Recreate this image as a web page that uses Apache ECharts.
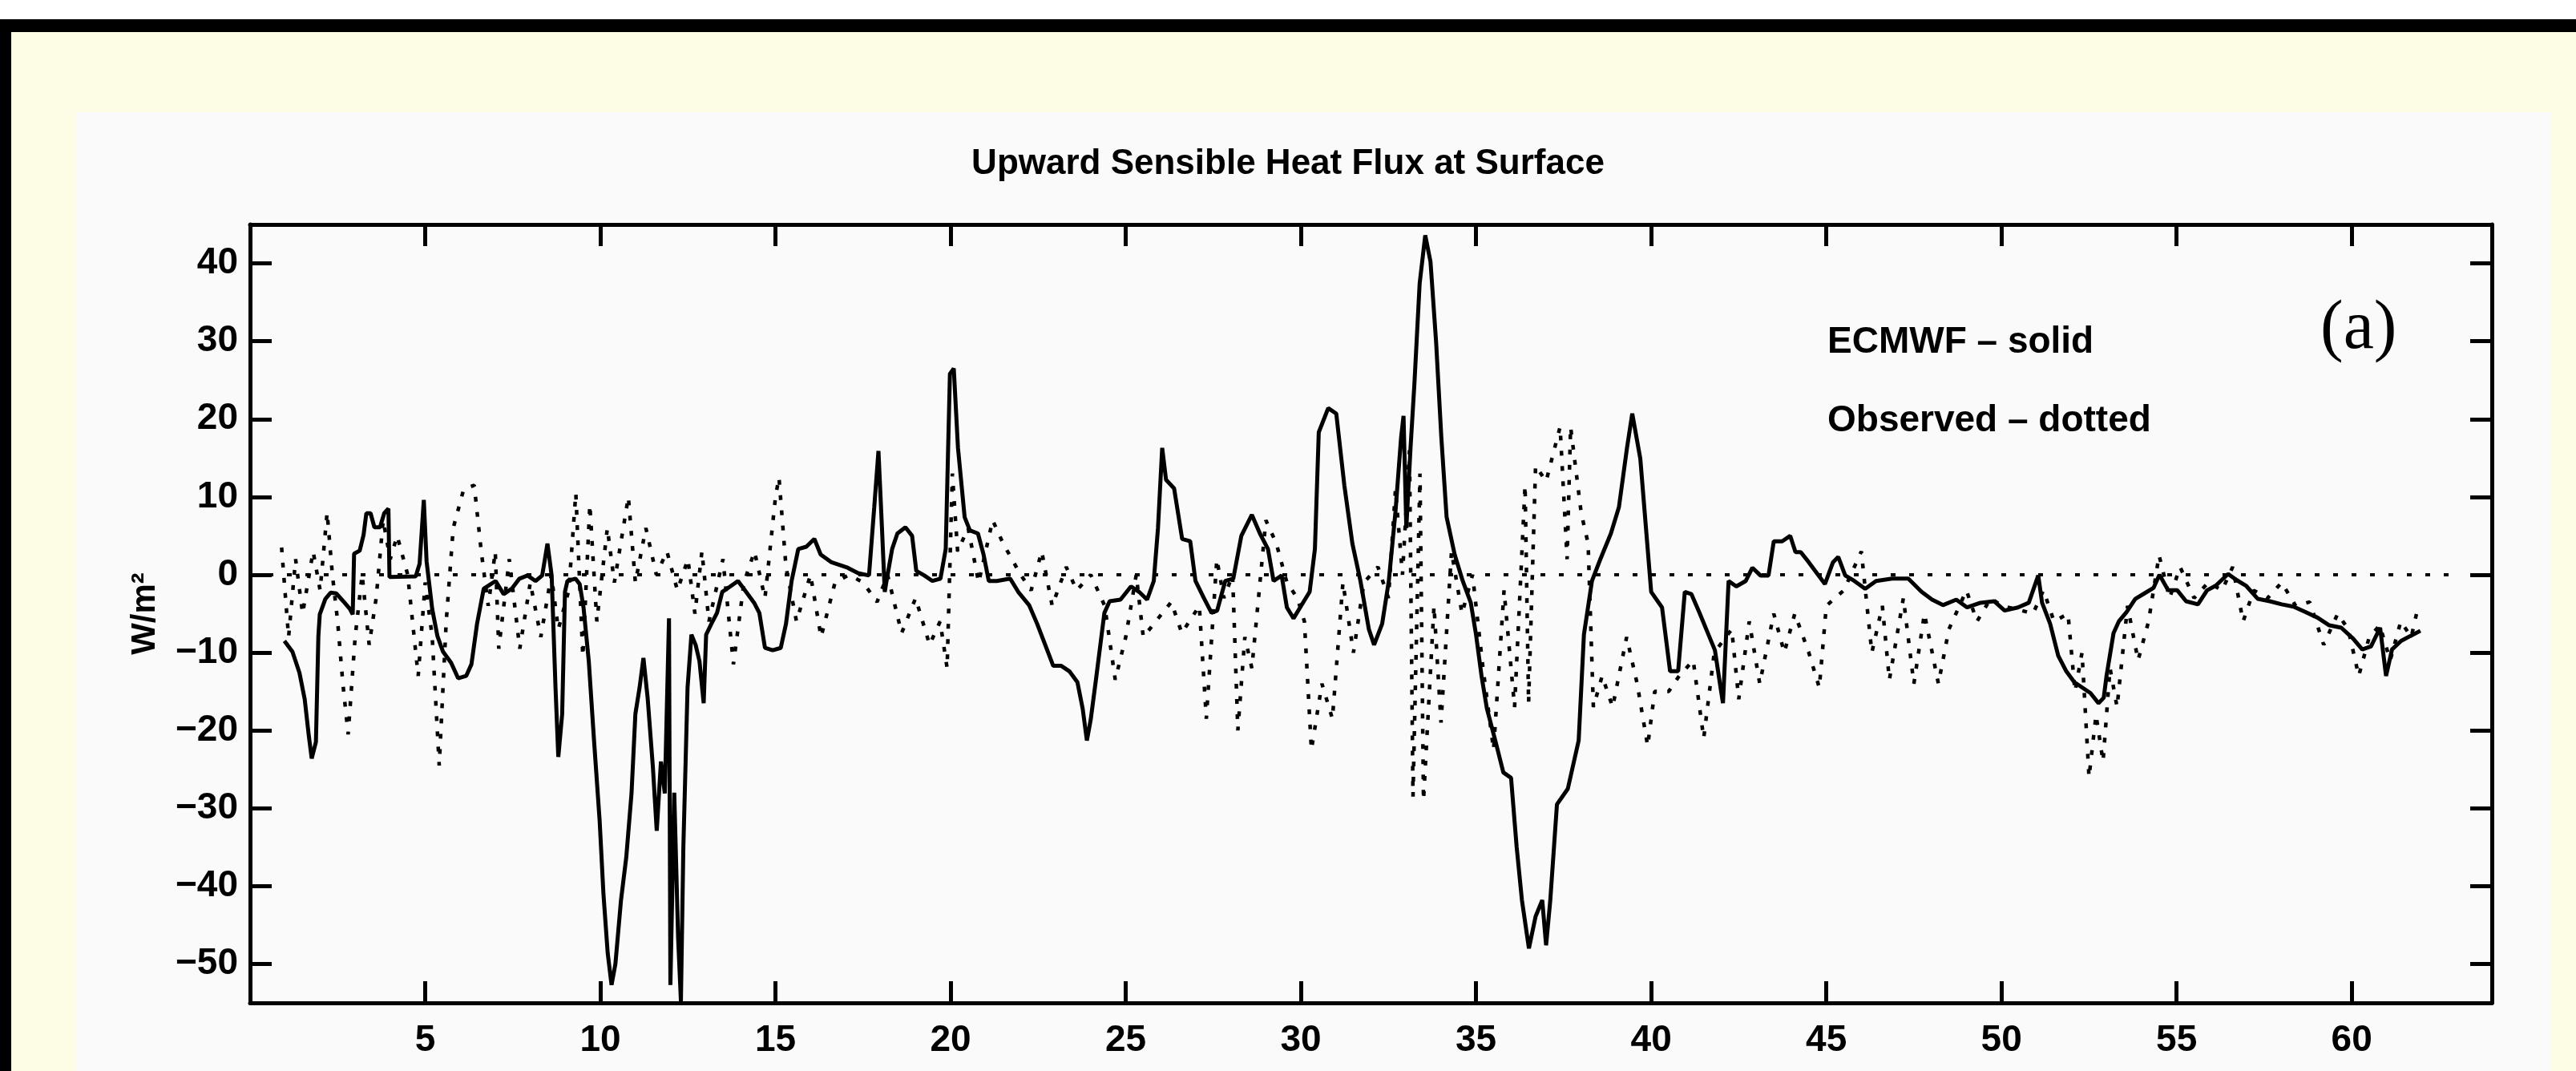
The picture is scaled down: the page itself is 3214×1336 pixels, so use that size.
<!DOCTYPE html>
<html>
<head>
<meta charset="utf-8">
<title>Upward Sensible Heat Flux at Surface</title>
<script src="https://cdn.jsdelivr.net/npm/echarts@6/dist/echarts.min.js"></script>
<style>
html, body { margin: 0; padding: 0; width: 3214px; height: 1336px; overflow: hidden; background: #fff; }
.frame { position: absolute; left: 0; top: 24px; width: 3214px; height: 1312px; background: #000; }
.paper { position: absolute; left: 14px; top: 40px; width: 3200px; height: 1296px; background: #fdfde6; }
.panel { position: absolute; left: 95px; top: 140px; width: 3088px; height: 1196px; background: #fafafa; }
#chart { position: absolute; left: 0; top: 0; width: 3214px; height: 1336px; }
</style>
</head>
<body>
<div class="frame"></div>
<div class="paper"></div>
<div class="panel"></div>
<div id="chart"></div>
<script>
// tick positions
const xTicks = [5, 10, 15, 20, 25, 30, 35, 40, 45, 50, 55, 60]
const yTicks = [-50, -40, -30, -20, -10, 0, 10, 20, 30, 40]

// ECMWF model, [day, W/m2]
const ecmwf = [
  [0.98, -8.5], [1.21, -9.9], [1.41, -12.6], [1.56, -16], [1.68, -20.8], [1.76, -23.6], [1.88, -21.5],
  [1.95, -7.9], [1.99, -5.1], [2.15, -3.1], [2.3, -2.3], [2.46, -2.4], [2.66, -3.4], [2.85, -4.4],
  [2.93, -5.1], [2.97, 2.7], [3.13, 3.1], [3.24, 5.1], [3.32, 7.9], [3.44, 7.9], [3.55, 6.1],
  [3.71, 6.1], [3.83, 7.9], [3.95, 8.5], [3.98, -0.3], [4.73, -0.2], [4.84, 1.4], [4.96, 9.6],
  [5.04, 1.7], [5.2, -4.4], [5.35, -7.9], [5.51, -9.9], [5.74, -11.3], [5.94, -13.3], [6.17, -13],
  [6.32, -11.5], [6.48, -6.3], [6.67, -1.8], [7.01, -0.8], [7.24, -2.5], [7.47, -1.8], [7.69, -0.5],
  [7.92, -0.1], [8.15, -0.8], [8.34, -0.1], [8.49, 4.0], [8.61, -0.1], [8.72, -14.5], [8.8, -23.4],
  [8.91, -17.9], [8.99, -2.2], [9.06, -0.8], [9.29, -0.5], [9.41, -1.2], [9.52, -4.2], [9.67, -11.1],
  [9.82, -21.3], [9.98, -31.6], [10.09, -41.1], [10.21, -48.6], [10.32, -52.7], [10.43, -50],
  [10.59, -41.8], [10.74, -36.3], [10.89, -28.1], [11.0, -17.9], [11.12, -14.5], [11.23, -10.7],
  [11.35, -15.8], [11.5, -24.7], [11.61, -32.9], [11.73, -24], [11.84, -28.1], [11.96, -5.6],
  [12.0, -52.7], [12.11, -28], [12.22, -46.6], [12.3, -54.8], [12.37, -35], [12.49, -14.5],
  [12.6, -7.7], [12.72, -9.0], [12.83, -11.1], [12.95, -16.5], [13.02, -7.7], [13.17, -6.3],
  [13.33, -4.9], [13.48, -2.2], [13.71, -1.5], [13.93, -0.8], [14.16, -2.2], [14.39, -3.6],
  [14.54, -4.9], [14.7, -9.4], [14.92, -9.7], [15.15, -9.4], [15.3, -6.3], [15.46, -0.8],
  [15.65, 3.3], [15.88, 3.6], [16.11, 4.6], [16.29, 2.6], [16.6, 1.6], [17.06, 0.9], [17.36, 0.2],
  [17.67, -0.1], [17.82, 8.7], [17.94, 15.9], [18.04, 6], [18.12, -2.2], [18.17, -0.8], [18.33, 3.3],
  [18.48, 5.3], [18.71, 6.1], [18.9, 5], [19.02, 0.5], [19.25, -0.1], [19.48, -0.8], [19.71, -0.5],
  [19.86, 3.3], [19.98, 25.8], [20.09, 26.5], [20.21, 16.3], [20.4, 7.4], [20.55, 5.7], [20.78, 5.3],
  [20.94, 2.6], [21.09, -0.8], [21.32, -0.8], [21.7, -0.5], [21.93, -2.2], [22.24, -3.9], [22.47, -6.3],
  [22.7, -9.0], [22.93, -11.7], [23.16, -11.7], [23.39, -12.4], [23.62, -13.8], [23.77, -17.2],
  [23.89, -21.3], [24.0, -18.6], [24.16, -13.1], [24.39, -4.9], [24.54, -3.4], [24.85, -3.2],
  [25.15, -1.5], [25.38, -2.2], [25.61, -3.2], [25.8, -0.8], [25.92, 6], [26.04, 16.3], [26.15, 12.2],
  [26.38, 11.1], [26.61, 4.6], [26.84, 4.3], [26.99, -0.8], [27.22, -2.9], [27.45, -4.9], [27.61, -4.6],
  [27.84, -0.8], [28.07, -0.5], [28.3, 5], [28.6, 7.7], [28.83, 5.3], [29.06, 3.3], [29.22, -0.8],
  [29.45, -0.1], [29.6, -4.2], [29.79, -5.6], [30.02, -3.9], [30.25, -2.2], [30.4, 3.3], [30.51, 18.3],
  [30.78, 21.4], [31.01, 20.7], [31.24, 11.5], [31.47, 4], [31.7, -0.8], [31.94, -7.0], [32.09, -9.0],
  [32.32, -6.3], [32.51, -0.8], [32.7, 8.1], [32.86, 17.6], [32.93, 20.4], [33.01, 6.0], [33.13, 16.3],
  [33.24, 24.5], [33.39, 37.4], [33.55, 43.6], [33.7, 40.2], [33.86, 29.9], [34.01, 17.6], [34.16, 7.4],
  [34.39, 2.6], [34.62, -0.8], [34.85, -3.6], [35.0, -7.7], [35.16, -13.1], [35.31, -17.2], [35.55, -21.3],
  [35.78, -25.4], [36.0, -26.1], [36.16, -35], [36.31, -41.8], [36.51, -48], [36.7, -43.9], [36.89, -41.8],
  [37.0, -47.6], [37.12, -41.8], [37.31, -29.5], [37.62, -27.5], [37.93, -21.3], [38.08, -7.7],
  [38.31, -0.8], [38.54, 1.9], [38.85, 5.3], [39.08, 8.7], [39.31, 16.3], [39.46, 20.7], [39.69, 14.9],
  [40.0, -2.2], [40.31, -4.2], [40.54, -12.4], [40.77, -12.4], [40.96, -2.2], [41.15, -2.5], [41.38, -4.9],
  [41.6, -7.3], [41.82, -9.7], [41.98, -14.5], [42.05, -16.5], [42.21, -0.8], [42.43, -1.5], [42.7, -0.8],
  [42.89, 0.9], [43.12, -0.1], [43.35, -0.1], [43.5, 4.3], [43.74, 4.3], [43.97, 5.0], [44.12, 2.9],
  [44.27, 2.9], [44.5, 1.6], [44.73, 0.2], [44.96, -1.2], [45.19, 1.6], [45.34, 2.3], [45.54, -0.1],
  [45.8, -0.8], [46.11, -1.8], [46.42, -0.8], [46.88, -0.5], [47.34, -0.5], [47.72, -2.2], [48.02, -3.2],
  [48.33, -3.9], [48.71, -3.2], [49.02, -4.2], [49.4, -3.6], [49.79, -3.4], [50.09, -4.6], [50.47, -4.2],
  [50.78, -3.6], [51.05, -0.1], [51.16, -3.6], [51.39, -6.3], [51.62, -10.4], [51.85, -12.4],
  [52.08, -13.8], [52.31, -14.5], [52.54, -15.2], [52.77, -16.5], [52.92, -15.8], [53.0, -13],
  [53.2, -7.5], [53.35, -6], [53.57, -4.8], [53.82, -3.1], [54.08, -2.4], [54.34, -1.7], [54.51, 0],
  [54.76, -2.0], [55.02, -2.0], [55.27, -3.4], [55.61, -3.8], [55.87, -2.0], [56.12, -1.4], [56.47, 0.1],
  [56.72, -0.7], [56.98, -1.4], [57.32, -3.1], [57.66, -3.4], [58.0, -3.8], [58.34, -4.1], [58.68, -4.8],
  [59.02, -5.5], [59.36, -6.5], [59.7, -6.8], [60.04, -8.2], [60.3, -9.6], [60.55, -9.2], [60.81, -6.8],
  [60.98, -13.0], [61.15, -9.6], [61.41, -8.5], [61.66, -7.9], [61.96, -7.2]
]

// observed, [day, W/m2]
const observed = [
  [0.9, 3.5], [1.1, -8], [1.3, 2], [1.5, -5], [1.8, 3], [2.0, -2], [2.2, 8], [2.35, 0], [2.5, -6],
  [2.65, -14], [2.8, -20.5], [3.0, -8], [3.2, 0], [3.4, -9], [3.6, -3], [3.8, 7], [4.0, 2], [4.2, 5],
  [4.5, 0], [4.8, -13], [5.0, -1], [5.2, -8], [5.4, -24.5], [5.6, -6], [5.8, 6], [6.1, 11], [6.4, 11.5],
  [6.6, 3], [6.8, -4], [7.0, 3], [7.1, -9.5], [7.4, 2], [7.7, -9.5], [8.0, -1], [8.3, -8], [8.6, 0],
  [8.8, -7], [9.1, -2], [9.3, 10.5], [9.5, -10.5], [9.7, 9], [9.9, -6], [10.2, 6], [10.4, -1],
  [10.8, 10], [11.0, -1], [11.3, 6], [11.6, 0], [11.9, 3], [12.2, -2], [12.5, 2], [12.7, -5], [12.9, 3],
  [13.1, -6], [13.5, 2], [13.8, -11.5], [14.1, -1], [14.4, 3], [14.7, -3], [15.0, 10], [15.1, 12.5],
  [15.3, 1], [15.6, -6], [16.0, 0], [16.3, -8], [16.7, -1], [17.1, 0], [17.5, -1], [17.9, -3.5],
  [18.2, 0], [18.6, -7.5], [19.0, -3], [19.4, -9], [19.7, -6], [19.9, -12], [20.05, 13], [20.2, 3],
  [20.5, 6], [20.8, -1], [21.2, 7], [21.5, 4], [22.0, 0], [22.3, -2], [22.6, 3], [22.9, -4], [23.3, 1],
  [23.6, -2], [24.0, 0], [24.4, -4], [24.7, -13.5], [25.0, -8], [25.3, 0], [25.5, -8], [26.3, -3.5],
  [26.6, -7.5], [27.1, -4], [27.3, -18.5], [27.6, 2], [27.8, -3], [28.05, 0], [28.2, -20], [28.4, -8],
  [28.6, -12], [29.0, 7], [29.3, 4], [29.6, -1], [29.9, -3], [30.1, -6], [30.3, -22.5], [30.6, -14],
  [30.9, -18.5], [31.2, -1], [31.5, -10], [31.8, -1], [32.2, 1], [32.5, -3], [32.7, 11], [32.9, 0],
  [33.1, 16], [33.2, -28.5], [33.4, 13], [33.5, -29], [33.8, -4], [34.0, -19], [34.3, 3], [34.6, -5],
  [34.9, 0], [35.2, -12], [35.5, -22.5], [35.8, -2], [36.1, -17], [36.4, 11.5], [36.5, -16.5],
  [36.7, 14], [37.0, 12], [37.4, 19], [37.6, 2], [37.7, 19], [38.0, 8], [38.2, 4], [38.35, -17],
  [38.6, -13], [38.9, -17], [39.3, -8], [39.6, -14], [39.9, -22], [40.1, -15], [40.5, -15], [40.8, -13],
  [41.2, -11], [41.5, -21], [41.8, -10], [42.3, -7], [42.5, -16], [42.8, -6], [43.1, -14], [43.5, -5],
  [43.8, -10], [44.1, -5], [44.5, -10], [44.8, -14.5], [45.0, -4], [45.5, -2], [46.0, 3], [46.3, -10],
  [46.6, -4], [46.8, -13.5], [47.2, -3], [47.5, -14], [47.8, -5], [48.2, -14], [48.5, -7], [49.0, -2],
  [49.3, -6], [49.7, -3], [50.0, -4], [50.5, -4.5], [50.9, -5], [51.2, -2], [51.5, -6], [51.9, -5],
  [52.1, -15], [52.3, -10], [52.5, -26], [52.7, -18], [52.9, -24], [53.1, -12], [53.3, -17], [53.6, -4],
  [53.9, -11], [54.2, -6], [54.5, 2.5], [54.8, -3], [55.1, 1], [55.5, -3], [55.9, -1], [56.3, -2],
  [56.6, 1], [56.9, -6], [57.2, -2], [57.6, -3], [58.0, -1], [58.4, -4], [58.8, -3.5], [59.2, -9],
  [59.6, -5], [59.9, -7], [60.2, -13], [60.5, -8], [60.8, -6.5], [61.1, -11], [61.4, -6], [61.7, -8],
  [61.9, -4]
]

const zeroLine = [[0, 0], [63, 0]]

const sans = "'Liberation Sans', Arial, Helvetica, sans-serif"
const serif = "'Liberation Serif', 'Times New Roman', serif"
const minus = v => String(v).replace('-', '\u2212')

const axisBase = {
  type: 'value',
  axisLine: { show: true, onZero: false, lineStyle: { color: '#000', width: 5 } },
  splitLine: { show: false }
}
const tickStyle = { show: true, inside: true, length: 27, lineStyle: { color: '#000', width: 5 } }

const chart = echarts.init(document.getElementById('chart'))
const option = {
  animation: false,
  backgroundColor: 'transparent',
  title: {
    text: 'Upward Sensible Heat Flux at Surface',
    left: 'center',
    top: 178,
    textStyle: { fontFamily: sans, fontSize: 44, fontWeight: 'bold', color: '#000' }
  },
  grid: { left: 312, top: 280, width: 2797, height: 971, containLabel: false },
  xAxis: [{
    ...axisBase,
    min: 0,
    max: 64,
    position: 'bottom',
    axisTick: { ...tickStyle, customValues: xTicks },
    axisLabel: {
      customValues: xTicks, margin: 24, color: '#000',
      fontFamily: sans, fontSize: 46, fontWeight: 'bold'
    }
  }, {
    ...axisBase,
    min: 0,
    max: 64,
    position: 'top',
    axisTick: { ...tickStyle, customValues: xTicks },
    axisLabel: { show: false }
  }],
  yAxis: [{
    ...axisBase,
    min: -55,
    max: 45,
    position: 'left',
    axisTick: { ...tickStyle, customValues: yTicks },
    axisLabel: {
      customValues: yTicks, margin: 15, color: '#000', formatter: minus,
      fontFamily: sans, fontSize: 46, fontWeight: 'bold'
    },
    name: 'W/m\u00b2',
    nameLocation: 'middle',
    nameRotate: 90,
    nameGap: 110,
    nameTextStyle: { fontFamily: sans, fontSize: 42, fontWeight: 'bold', color: '#000' }
  }, {
    ...axisBase,
    min: -55,
    max: 45,
    position: 'right',
    axisTick: { ...tickStyle, customValues: yTicks },
    axisLabel: { show: false }
  }],
  graphic: [{
    type: 'text', left: 2280, top: 404,
    style: { text: 'ECMWF \u2013 solid', font: 'bold 46px ' + sans, fill: '#000' }
  }, {
    type: 'text', left: 2280, top: 502,
    style: { text: 'Observed \u2013 dotted', font: 'bold 46px ' + sans, fill: '#000' }
  }, {
    type: 'text', left: 2895, top: 368,
    style: { text: '(a)', font: '86px ' + serif, fill: '#000' }
  }],
  series: [{
    name: 'zero',
    type: 'line',
    data: zeroLine,
    showSymbol: false,
    silent: true,
    lineStyle: { color: '#000', width: 4, type: [6, 17] },
    z: 1
  }, {
    name: 'Observed',
    type: 'line',
    data: observed,
    showSymbol: false,
    lineStyle: { color: '#000', width: 4.5, type: [6, 13] },
    z: 2
  }, {
    name: 'ECMWF',
    type: 'line',
    data: ecmwf,
    showSymbol: false,
    lineStyle: { color: '#000', width: 5 },
    z: 3
  }]
}
chart.setOption(option)
</script>
</body>
</html>
